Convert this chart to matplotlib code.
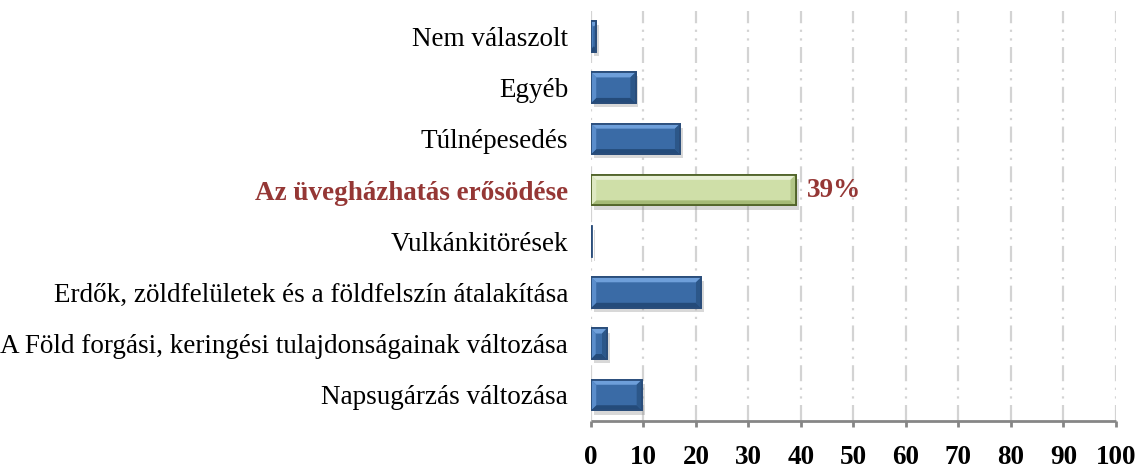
import numpy as np
import matplotlib
matplotlib.use('Agg')
import matplotlib.pyplot as plt
from matplotlib.patches import Polygon
import matplotlib.patheffects as pe

# categories top to bottom
categories = ["Nem válaszolt", "Egyéb", "Túlnépesedés", "Az üvegházhatás erősödése",
              "Vulkánkitörések", "Erdők, zöldfelületek és a földfelszín átalakítása",
              "A Föld forgási, keringési tulajdonságainak változása", "Napsugárzás változása"]
values = [1, 8.5, 17, 39, 0.2, 21, 3, 9.7]
highlight = 3
highlight_label = "39%"
xticks = list(range(0, 101, 10))

plt.rcParams['font.family'] = ['Liberation Serif', 'DejaVu Serif']

fig = plt.figure(figsize=(11.42, 4.71), dpi=100)
ax = fig.add_axes([0.5175, 0.107, 0.4597, 0.87])

blue = dict(face='#3A6BA6', top='#6E9FDA', left='#5A8DCB', right='#2C5789',
            bottom='#244B7A', edge='#2A4D7A')
green = dict(face='#CFDFA8', top='#E8F0D5', left='#DEE9C2', right='#B2C687',
             bottom='#A5BA77', edge='#4F6228')

h = 0.3
dy = 0.1
for i, v in enumerate(values):
    c = green if i == highlight else blue
    y0, y1 = i - h, i + h   # y0 is the top on screen (inverted axis)
    dx = min(1.0, v * 0.3)
    outer = Polygon([(0, y0), (v, y0), (v, y1), (0, y1)], closed=True,
                    facecolor=c['face'], edgecolor=c['edge'], lw=1.3, zorder=3)
    outer.set_path_effects([pe.SimplePatchShadow(offset=(2, -3), shadow_rgbFace='#808080',
                                                 alpha=0.3), pe.Normal()])
    ax.add_patch(outer)
    if v > 0.5:
        ax.add_patch(Polygon([(0, y0), (v, y0), (v - dx, y0 + dy), (dx, y0 + dy)],
                             facecolor=c['top'], lw=0, zorder=4))
        ax.add_patch(Polygon([(0, y1), (v, y1), (v - dx, y1 - dy), (dx, y1 - dy)],
                             facecolor=c['bottom'], lw=0, zorder=4))
        ax.add_patch(Polygon([(0, y0), (dx, y0 + dy), (dx, y1 - dy), (0, y1)],
                             facecolor=c['left'], lw=0, zorder=4))
        ax.add_patch(Polygon([(v, y0), (v - dx, y0 + dy), (v - dx, y1 - dy), (v, y1)],
                             facecolor=c['right'], lw=0, zorder=4))
        ax.add_patch(Polygon([(0, y0), (v, y0), (v, y1), (0, y1)], closed=True,
                             facecolor='none', edgecolor=c['edge'], lw=1.3, zorder=5))

ax.text(values[highlight] + 2.2, highlight, highlight_label, va='center', ha='left',
        fontsize=19.5, fontweight='bold', color='#953735')

ax.set_xlim(0, 100)
ax.set_ylim(len(categories) - 0.5, -0.5)
ax.set_xticks(xticks)
ax.set_xticklabels([str(t) for t in xticks], fontsize=19.5, fontweight='bold')
ax.set_yticks(range(len(categories)))
ax.set_yticklabels(categories, fontsize=19.5)
for i, lab in enumerate(ax.get_yticklabels()):
    if i == highlight:
        lab.set_color('#953735')
        lab.set_fontweight('bold')

ax.grid(axis='x', color='#D3D3D3', lw=1.6, linestyle=(0, (7.2, 2.9, 1, 2.9, 1, 2.9)), zorder=0)
ax.set_axisbelow(True)
for s in ['left', 'right', 'top']:
    ax.spines[s].set_visible(False)
ax.spines['bottom'].set_color('#868686')
ax.spines['bottom'].set_linewidth(2)
ax.spines['bottom'].set_capstyle('butt')
ax.tick_params(axis='x', direction='out', length=4.5, width=2, color='#868686', pad=13)
ax.tick_params(axis='y', length=0, pad=16.5)

fig.savefig('out.png', dpi=100)
